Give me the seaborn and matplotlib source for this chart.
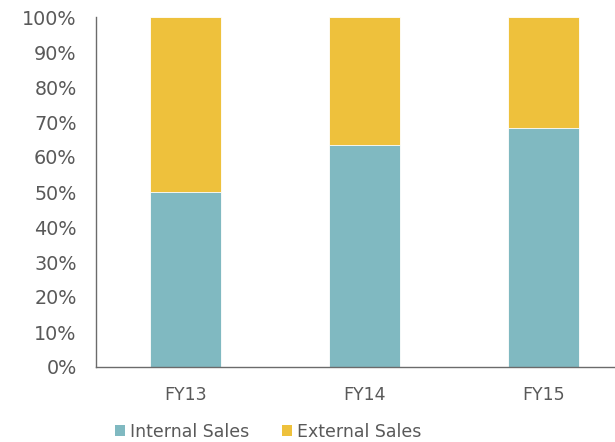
import matplotlib
matplotlib.use("Agg")
import matplotlib.pyplot as plt
from matplotlib.patches import Patch
from matplotlib.ticker import PercentFormatter
import seaborn as sns
import pandas as pd

categories = ["FY13", "FY14", "FY15"]
internal_sales = [50.1, 63.4, 68.4]
external_sales = [49.9, 36.6, 31.6]
series_names = ["Internal Sales", "External Sales"]

teal = "#80B9C1"
yellow = "#EEC13C"
grey = "#595959"

sns.set_theme(style="white")
plt.rcParams["font.family"] = ["DejaVu Sans"]

df = pd.DataFrame({
    "cat": categories,
    "internal": internal_sales,
    "total": [i + e for i, e in zip(internal_sales, external_sales)],
})

fig = plt.figure(figsize=(6.15, 4.42), dpi=100)
ax = fig.add_axes([96 / 615, 75 / 442, 537 / 615, 350 / 442])

sns.barplot(data=df, x="cat", y="total", color=yellow, width=0.4, ax=ax,
            saturation=1, edgecolor="white", linewidth=0.6)
sns.barplot(data=df, x="cat", y="internal", color=teal, width=0.4, ax=ax,
            saturation=1, edgecolor="white", linewidth=0.6)

ax.set_xlim(-0.5, 2.5)
ax.set_ylim(0, 100)
ax.set_yticks(range(0, 101, 10))
ax.yaxis.set_major_formatter(PercentFormatter(decimals=0))
ax.set_xlabel("")
ax.set_ylabel("")
ax.tick_params(axis="both", length=0, colors=grey)
ax.tick_params(axis="y", pad=14, labelsize=13.8)
ax.tick_params(axis="x", pad=14, labelsize=12.5)
for s in ["top", "right"]:
    ax.spines[s].set_visible(False)
for s in ["left", "bottom"]:
    ax.spines[s].set_color("#6b6b6b")
    ax.spines[s].set_linewidth(1.0)

handles = [Patch(facecolor=teal, edgecolor="none"), Patch(facecolor=yellow, edgecolor="none")]
leg = fig.legend(handles, series_names, loc="center", bbox_to_anchor=(268 / 615, 1 - 432 / 442),
                 ncol=2, frameon=False, fontsize=12.5, handlelength=0.6, handleheight=0.6,
                 handletextpad=0.25, columnspacing=1.9)
for t in leg.get_texts():
    t.set_color(grey)

fig.savefig("out.png", dpi=100)
